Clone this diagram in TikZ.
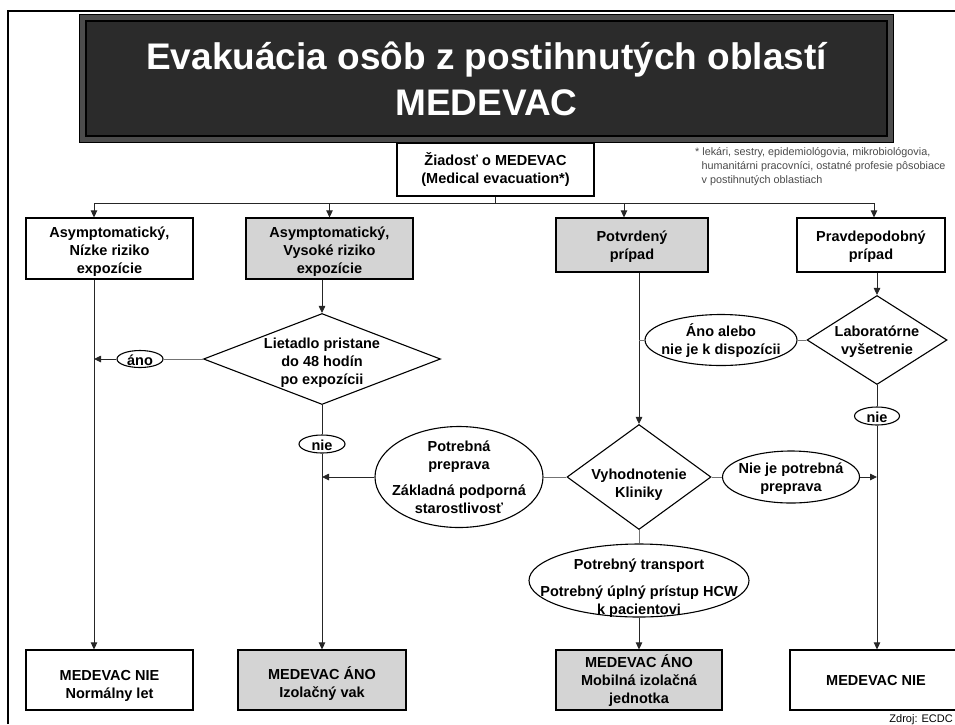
\documentclass[tikz,border=0pt]{standalone}
\usepackage{fontspec}
\setmainfont{Liberation Sans}
\usetikzlibrary{shapes.geometric, arrows.meta}
\definecolor{boxgray}{HTML}{D4D4D4}
\definecolor{titlegray}{HTML}{2B2B2B}
\definecolor{notegray}{HTML}{4A4A4A}
\newcommand{\ctext}[2][5pt]{\makebox[0pt]{\raisebox{-#1}[0pt][0pt]{\begin{tabular}{@{}c@{}}#2\end{tabular}}}}

\begin{document}
\begin{tikzpicture}[x=1pt, y=-1pt,
    every node/.style={inner sep=0pt, font=\bfseries\fontsize{14.5}{18}\selectfont},
    >={Triangle[length=7pt, width=6.5pt]},
    case/.style={rectangle, draw, line width=1.2pt, fill=white},
    shaded/.style={fill=boxgray},
    query/.style={diamond, draw, line width=1.1pt, fill=white},
    answer/.style={ellipse, draw, line width=1.1pt, fill=white},
    link/.style={line width=0.9pt, draw=black!85},
    stub/.style={line width=1pt, draw=black!55}]
    \useasboundingbox (0,0) rectangle (955,724);
    \clip (0,0) rectangle (955,724);
    % frame
    \draw[line width=2.5pt] (8,724) -- (8,11) -- (955,11);
    % title
    \draw[fill=black!70, line width=0.6pt] (79,14) rectangle (893,142);
    \node[fill=titlegray, draw=black, line width=1.2pt, minimum width=801, minimum height=115,
          text=white, align=center, font=\bfseries\fontsize{37}{46}\selectfont]
          (title) at (486.5,78.5) {Evakuácia osôb z postihnutých oblastí\\MEDEVAC};
    % request
    \node[case, minimum width=197, minimum height=53] (req) at (495.5,169.5)
          {\ctext{Žiadosť o MEDEVAC\\(Medical evacuation*)}};
    \node[anchor=north west, align=left, text=notegray, font=\fontsize{10.8}{14}\selectfont]
          (note) at (695,147) {* lekári, sestry, epidemiológovia, mikrobiológovia,\\
          \hspace*{6.5pt}humanitárni pracovníci, ostatné profesie pôsobiace\\
          \hspace*{6.5pt}v postihnutých oblastiach};
    % cases
    \node[case, minimum width=167, minimum height=61] (box1) at (109.5,248.5)
          {\ctext[7pt]{Asymptomatický,\\Nízke riziko\\expozície}};
    \node[case, shaded, minimum width=167, minimum height=61] (box2) at (329.5,248.5)
          {\ctext[7pt]{Asymptomatický,\\Vysoké riziko\\expozície}};
    \node[case, shaded, minimum width=152, minimum height=54] (box3) at (632,245)
          {\ctext{Potvrdený\\prípad}};
    \node[case, minimum width=148, minimum height=54] (box4) at (871,245)
          {\ctext{Pravdepodobný\\prípad}};
    % decisions
    \node[query, minimum width=237, minimum height=91] (dia1) at (322,359)
          {\ctext[7pt]{Lietadlo pristane\\do 48 hodín\\po expozícii}};
    \node[query, minimum width=140, minimum height=89] (dia2) at (877,340)
          {\ctext{Laboratórne\\vyšetrenie}};
    \node[query, minimum width=144, minimum height=105] (dia3) at (639,477)
          {\ctext[11pt]{Vyhodnotenie\\Kliniky}};
    % answers
    \node[answer, minimum width=46, minimum height=17] (eAno) at (140,359) {\ctext[6.5pt]{áno}};
    \node[answer, minimum width=46, minimum height=18] (nie1) at (322,444) {\ctext[6.5pt]{nie}};
    \node[answer, minimum width=45, minimum height=18] (nie2) at (877,416) {\ctext[6.5pt]{nie}};
    \node[answer, minimum width=152, minimum height=51] (eAvail) at (721,340)
          {\ctext{Áno alebo\\nie je k dispozícii}};
    \node[answer, minimum width=168, minimum height=101] (ePrep) at (459,477)
          {\ctext{Potrebná\\preprava\\[8pt]Základná podporná\\starostlivosť}};
    \node[answer, minimum width=137, minimum height=52] (eNoNeed) at (791,477)
          {\ctext{Nie je potrebná\\preprava}};
    \node[answer, minimum width=220, minimum height=73] (eTrans) at (639,580.5)
          {\ctext[11pt]{Potrebný transport\\[9pt]Potrebný úplný prístup HCW\\k pacientovi}};
    % outcomes
    \node[case, minimum width=167, minimum height=60] (out1) at (109.5,680)
          {\ctext[9pt]{MEDEVAC NIE\\Normálny let}};
    \node[case, shaded, minimum width=168, minimum height=60] (out2) at (322,680)
          {\ctext[8pt]{MEDEVAC ÁNO\\Izolačný vak}};
    \node[case, shaded, minimum width=166, minimum height=60] (out3) at (639,680)
          {\ctext{MEDEVAC ÁNO\\Mobilná izolačná\\jednotka}};
    \node[case, minimum width=172, minimum height=60] (out4) at (876,680)
          {\ctext{MEDEVAC NIE}};
    \node[anchor=base east, font=\fontsize{11}{13}\selectfont] (src) at (953,722) {Zdroj: ECDC};
    % bus
    \coordinate (b1) at (94,203);
    \coordinate (b2) at (329.5,203);
    \coordinate (b3) at (624,203);
    \coordinate (b4) at (874,203);
    \draw[link] (b1) -- (b4);
    \draw[link] (req) -- (req |- b1);
    \foreach \bus/\target in {b1/box1, b2/box2, b3/box3, b4/box4}
        \draw[link, ->] (\bus) -- (\bus |- \target.north);
    % left column
    \draw[link, ->] (b1 |- box1.south) -- (b1 |- out1.north);
    \draw[stub] (dia1) -- (eAno);
    \draw[link, ->] (eAno) -- (b1 |- eAno);
    % second column
    \draw[link, ->] (dia1 |- box2.south) -- (dia1.north);
    \draw[link] (dia1) -- (nie1);
    \draw[link, ->] (nie1) -- (out2);
    \draw[stub] (dia3) -- (ePrep);
    \draw[link, ->] (ePrep) -- (nie1 |- ePrep);
    % third column
    \draw[link, ->] (dia3 |- box3.south) -- (dia3.north);
    \draw[stub] (dia2) -- (eAvail);
    \draw[stub] (eAvail) -- (dia3 |- eAvail);
    \draw[stub] (dia3) -- (eTrans);
    \draw[link, ->] (eTrans) -- (out3);
    \draw[stub] (dia3) -- (eNoNeed);
    \draw[link, ->] (eNoNeed) -- (dia2 |- eNoNeed);
    % right column
    \draw[link, ->] (dia2 |- box4.south) -- (dia2.north);
    \draw[link] (dia2) -- (nie2);
    \draw[link, ->] (nie2) -- (nie2 |- out4.north);
\end{tikzpicture}
\end{document}
